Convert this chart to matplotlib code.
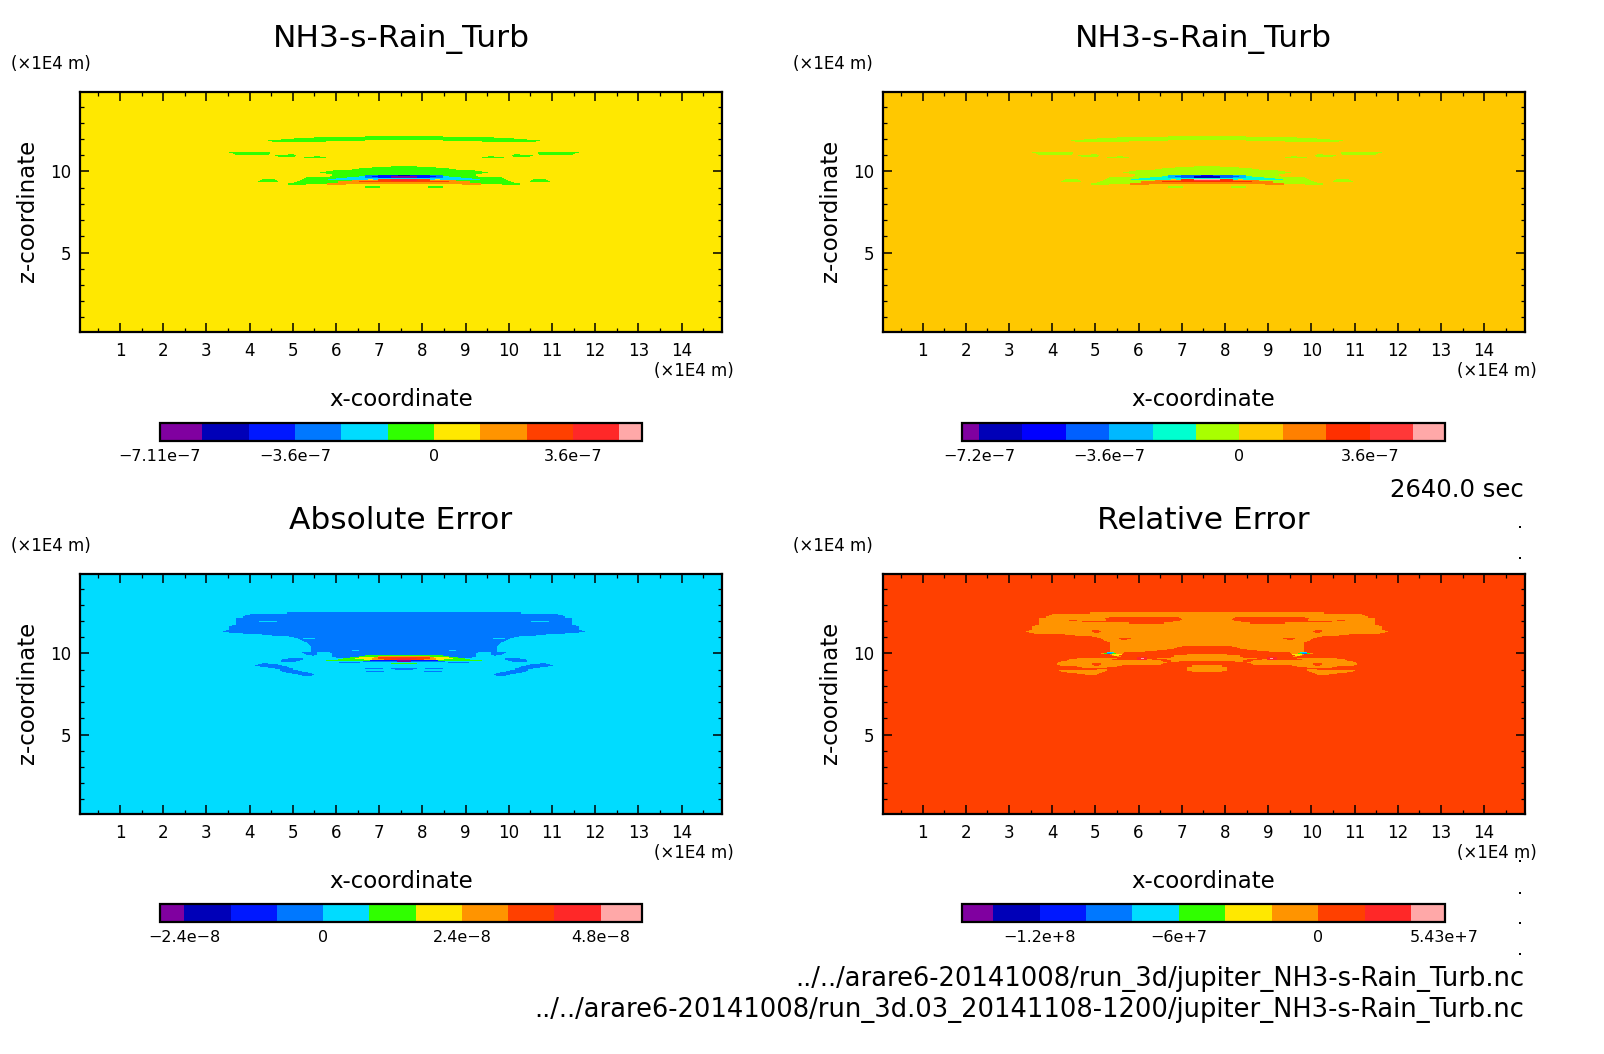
import numpy as np
import matplotlib
matplotlib.use("Agg")
import matplotlib.pyplot as plt
from matplotlib.colors import ListedColormap, BoundaryNorm
from matplotlib.lines import Line2D
from matplotlib.ticker import MultipleLocator

W, H = 1604, 1054
N_ROWS, N_COLS, CENTER = 240, 642, 324
X_RANGE = (0.074, 14.935)
Z_RANGE = (0.08, 14.88)

COLORS_A = ["#8000a0", "#0000b8", "#0018ff", "#0078ff", "#00dcff", "#30ff00",
            "#ffe800", "#ff9400", "#ff4000", "#ff2828", "#ffa8a8"]
COLORS_B = ["#8000a0", "#0000b8", "#0000ff", "#0060ff", "#00b8ff", "#00ffd0",
            "#a8ff00", "#ffc800", "#ff8000", "#ff3000", "#ff3838", "#ffa8a8"]

BOUNDS_1 = [-7.11e-7, -6e-7, -4.8e-7, -3.6e-7, -2.4e-7, -1.2e-7, 0, 1.2e-7, 2.4e-7, 3.6e-7, 4.8e-7, 5.4e-7]
BOUNDS_2 = [-7.68e-7, -7.2e-7, -6e-7, -4.8e-7, -3.6e-7, -2.4e-7, -1.2e-7, 0, 1.2e-7, 2.4e-7, 3.6e-7, 4.8e-7, 5.67e-7]
BOUNDS_3 = [-2.83e-8, -2.4e-8, -1.6e-8, -0.8e-8, 0, 0.8e-8, 1.6e-8, 2.4e-8, 3.2e-8, 4e-8, 4.8e-8, 5.52e-8]
BOUNDS_4 = [-1.535e8, -1.4e8, -1.2e8, -1e8, -8e7, -6e7, -4e7, -2e7, 0, 2e7, 4e7, 5.43e7]

TICKS_1 = [-7.11e-7, -3.6e-7, 0, 3.6e-7]
TICKS_2 = [-7.2e-7, -3.6e-7, 0, 3.6e-7]
TICKS_3 = [-2.4e-8, 0, 2.4e-8, 4.8e-8]
TICKS_4 = [-1.2e8, -6e7, 0, 5.43e7]
LABELS_1 = ["\u22127.11e\u22127", "\u22123.6e\u22127", "0", "3.6e\u22127"]
LABELS_2 = ["\u22127.2e\u22127", "\u22123.6e\u22127", "0", "3.6e\u22127"]
LABELS_3 = ["\u22122.4e\u22128", "0", "2.4e\u22128", "4.8e\u22128"]
LABELS_4 = ["\u22121.2e+8", "\u22126e+7", "0", "5.43e+7"]

# Field bands: (grid row, inner half-width, outer half-width) about the domain centre, in grid cells.
S_GREEN = [(44,0,39),(45,0,90),(46,0,110),(47,0,123),(48,39,136),(49,78,132),
           (60,134,175),(61,134,171),(62,135,169),(62,110,116),(63,108,129),(64,109,126),
           (64,84,90),(65,78,100),
           (74,0,13),(75,0,32),(76,0,45),(77,0,52),(78,0,71),(79,0,78),(80,0,84),(81,0,78),
           (82,0,72),(83,0,72),(84,0,74),(85,0,98),(86,0,100),(87,0,102),(88,0,104),(89,0,107),
           (90,0,110),(91,77,116),(92,98,116),
           (87,129,142),(88,127,144),(89,126,146),(94,24,39),(95,24,39)]
S_CYAN = [(84,0,45),(85,0,57),(86,0,68),(87,0,76)]
S_AZURE = [(83,0,39),(84,0,39),(85,0,39)]
S_BLUE = [(83,0,26),(84,0,32),(85,0,26)]
S_NAVY = [(83,0,6)]
S_PURPLE = [(84,0,13),(85,0,13)]
S_YELLOW = [(87,31,36)]
S_ORANGE = [(88,0,52),(89,0,66),(90,0,66),(91,0,77),(92,58,77)]
S_REDOR = [(87,0,26),(88,0,26),(89,0,45)]
S_RED = [(87,0,13),(88,0,13)]
S_PINK_B = [(87,0,13)]
SHAPE_LAYERS = [(5,S_GREEN),(4,S_CYAN),(3,S_AZURE),(2,S_BLUE),(1,S_NAVY),(0,S_PURPLE),
                (6,S_YELLOW),(7,S_ORANGE),(8,S_REDOR),(9,S_RED)]

ABS_OUTLINE_START = 38
ABS_OUTLINE = [117,117,154,159,161,161,168,168,168,168,168,168,168,172,175,175,175,175,178,181,
               175,161,142,132,115,110,106,104,102,100,97,96,95,94,93,93,93,93,93,93,
               74,72,72,72,72,68]
ABS_AZURE = [(78,87,102),(79,87,100),(80,87,98),(81,90,92),
             (84,101,116),(85,101,122),(86,104,123),(87,108,123),
             (89,136,142),(90,126,146),(91,122,149),(92,117,144),(93,115,136),(94,111,129),
             (95,111,124),(96,106,124),(97,102,122),(98,96,118),(99,92,112),(100,90,106),(101,92,102),
             (94,21,39),(94,0,13),(95,0,9),(97,20,38),(87,0,41),(88,44,65)]
ABS_CYAN = [(47,127,145),(64,89,101),(76,45,52)]
ABS_GREEN = [(81,0,39),(82,0,45),(83,0,54),(84,0,61),(85,0,66),(86,34,78),(89,0,13)]
ABS_YELLOW = [(83,0,45),(84,0,49),(85,0,40)]
ABS_ORANGE = [(82,0,26),(83,0,30),(84,0,32),(85,0,32)]
ABS_REDOR = [(83,0,26),(84,0,26),(85,0,20)]
ABS_RED = [(84,0,13),(85,0,7)]
ABS_BLUE = [(86,0,34)]
ABS_PURPLE = [(86,0,7),(87,0,7)]

REL_OUTLINE_START = 38
REL_OUTLINE = [117,117,155,158,161,161,168,168,168,168,168,168,168,172,175,175,175,175,178,181,
               178,173,142,132,115,110,106,104,103,100,97,97,97,97,97,97,97,97,97,97,
               97,97,97,95,90,85,130,138,140,146,149,150,150,147,130,125,110,110]
REL_ORANGE = [(96,100,148),(97,102,146),(98,105,140),(99,108,130),(100,110,122),(96,0,20),(97,0,15)]
REL_REDOR = [(43,28,98),(44,26,102),(45,25,101),(46,27,101),(46,130,138),(47,34,125),(48,43,78),(49,43,78),
             (56,108,115),(57,106,115),(58,108,113),(64,76,88),(65,80,86),
             (72,0,25),(73,0,30),(74,0,33),(75,0,40),(76,0,50),(77,0,62),(78,0,83),(79,0,84),
             (80,20,86),(81,33,88),(82,33,86),(83,36,92),(84,50,90),(85,40,55),(85,70,95),(86,36,46),
             (87,0,28),(87,36,44),(88,0,40),(89,0,44),(90,0,46),(91,15,85),(92,15,90),(93,20,100),
             (94,20,110),(95,20,100),(89,106,115),(90,106,115),(91,108,113)]
REL_RED = [(83,60,70),(84,60,70),(85,60,70)]
REL_PINK = [(84,63,66)]
REL_GREEN = [(79,91,103)]
REL_CYAN = [(78,93,100)]
REL_AZURE = [(79,95,100)]
REL_YELLOW = [(80,85,95),(81,88,93)]
REL_EDGE = [(79,103,106)]

TITLES = ["NH3-s-Rain_Turb", "NH3-s-Rain_Turb", "Absolute Error", "Relative Error"]
X_LABEL = "x-coordinate"
Z_LABEL = "z-coordinate"
UNIT = "(\u00d71E4 m)"
TIME_LABEL = "2640.0 sec"
PATH_1 = "../../arare6-20141008/run_3d/jupiter_NH3-s-Rain_Turb.nc"
PATH_2 = "../../arare6-20141008/run_3d.03_20141108-1200/jupiter_NH3-s-Rain_Turb.nc"


def paint(field, spans, level):
    for row, d0, d1 in spans:
        field[row, CENTER - d1:CENTER - d0] = level
        field[row, CENTER + d0:CENTER + d1] = level


def outline(field, start, widths, level):
    paint(field, [(start + i, 0, w) for i, w in enumerate(widths)], level)


def base(level):
    return np.full((N_ROWS, N_COLS), level, dtype=int)


def shape_field(bg, shift, extra=()):
    f = base(bg)
    for lvl, spans in SHAPE_LAYERS:
        paint(f, spans, lvl + shift)
    for lvl, spans in extra:
        paint(f, spans, lvl)
    return f


def absolute_field():
    f = base(4)
    outline(f, ABS_OUTLINE_START, ABS_OUTLINE, 3)
    for lvl, spans in [(4, ABS_CYAN), (3, ABS_AZURE), (5, ABS_GREEN), (6, ABS_YELLOW), (7, ABS_ORANGE),
                       (8, ABS_REDOR), (9, ABS_RED), (2, ABS_BLUE), (0, ABS_PURPLE)]:
        paint(f, spans, lvl)
    return f


def relative_field():
    f = base(8)
    outline(f, REL_OUTLINE_START, REL_OUTLINE, 7)
    for lvl, spans in [(7, REL_ORANGE), (8, REL_REDOR), (9, REL_RED), (10, REL_PINK), (5, REL_GREEN),
                       (4, REL_CYAN), (3, REL_AZURE), (6, REL_YELLOW), (7, REL_EDGE)]:
        paint(f, spans, lvl)
    return f


def px_rect(x0, y0, x1, y1):
    return [x0 / W, 1 - y1 / H, (x1 - x0) / W, (y1 - y0) / H]


def label(fig, px, py, s, **kw):
    fig.text(px / W, 1 - py / H, s, color="black", **kw)


plt.rcParams["font.family"] = ["DejaVu Sans"]
fig = plt.figure(figsize=(W / 100, H / 100), dpi=100, facecolor="white")

PANEL_X = [80, 882.5, 80, 882.5]
PANEL_Y = [92.3, 92.3, 574.3, 574.3]
UNIT_X = [11, 793, 11, 793]
CBAR_X = [159.5, 961.7, 159.5, 961.7]
CBAR_Y = [423, 423, 904, 904]
CBAR_W = 482.8

x_edges = np.linspace(X_RANGE[0], X_RANGE[1], N_COLS + 1)
z_edges = np.linspace(Z_RANGE[1], Z_RANGE[0], N_ROWS + 1)

panels = [
    (shape_field(6, 0), BOUNDS_1, COLORS_A, TICKS_1, LABELS_1),
    (shape_field(7, 1, [(11, S_PINK_B)]), BOUNDS_2, COLORS_B, TICKS_2, LABELS_2),
    (absolute_field(), BOUNDS_3, COLORS_A, TICKS_3, LABELS_3),
    (relative_field(), BOUNDS_4, COLORS_A, TICKS_4, LABELS_4),
]

for i, (levels, bounds, colors, ticks, labels) in enumerate(panels):
    b = np.array(bounds, dtype=float)
    mids = 0.5 * (b[:-1] + b[1:])
    values = mids[levels]
    cmap = ListedColormap(colors)
    norm = BoundaryNorm(b, cmap.N)
    px, py = PANEL_X[i], PANEL_Y[i]
    ax = fig.add_axes(px_rect(px, py, px + N_COLS, py + 240))
    mesh = ax.pcolormesh(x_edges, z_edges, values, cmap=cmap, norm=norm, shading="flat",
                         antialiased=False, linewidth=0)
    ax.set_xlim(*X_RANGE)
    ax.set_ylim(*Z_RANGE)
    ax.xaxis.set_major_locator(MultipleLocator(1))
    ax.xaxis.set_minor_locator(MultipleLocator(0.5))
    ax.yaxis.set_major_locator(MultipleLocator(5))
    ax.yaxis.set_minor_locator(MultipleLocator(1))
    ax.tick_params(which="major", direction="in", length=6.5, width=1.1, top=True, right=True,
                   labelsize=12)
    ax.tick_params(which="minor", direction="in", length=3, width=0.9, top=True, right=True)
    ax.tick_params(axis="x", which="major", pad=7)
    ax.tick_params(axis="y", which="major", pad=6)
    for sp in ax.spines.values():
        sp.set_linewidth(1.6)

    cx = px + 321
    label(fig, cx, 38.5 + (py - 92.3), TITLES[i], fontsize=22.5, ha="center", va="center")
    label(fig, UNIT_X[i], py - 28.5, UNIT, fontsize=12, ha="left", va="center")
    label(fig, px + 654, py + 279, UNIT, fontsize=12, ha="right", va="center")
    label(fig, cx, py + 307, X_LABEL, fontsize=16.5, ha="center", va="center")
    label(fig, px - 52, py + 119, Z_LABEL, fontsize=16.5, ha="center", va="center", rotation=90)

    cax = fig.add_axes(px_rect(CBAR_X[i], CBAR_Y[i], CBAR_X[i] + CBAR_W, CBAR_Y[i] + 18))
    cb = fig.colorbar(mesh, cax=cax, orientation="horizontal", spacing="proportional", ticks=ticks)
    cb.set_ticklabels(labels)
    cb.ax.tick_params(length=0, labelsize=11.5, pad=6)
    cb.ax.minorticks_off()
    cb.outline.set_linewidth(1.6)

label(fig, 1524, 490, TIME_LABEL, fontsize=17.5, ha="right", va="center")
label(fig, 1524, 979.5, PATH_1, fontsize=18.5, ha="right", va="center")
label(fig, 1524, 1010, PATH_2, fontsize=18.5, ha="right", va="center")

SPECK_X = [1520, 1520, 1520, 1520, 1520, 1520]
SPECK_Y = [527, 557.5, 861, 892.5, 923, 954]
fig.add_artist(Line2D([x / W for x in SPECK_X], [1 - y / H for y in SPECK_Y], linestyle="none",
                      marker="s", markersize=1.5, color="black", markeredgewidth=0,
                      transform=fig.transFigure))

fig.savefig("out.png", dpi=100, facecolor="white")
